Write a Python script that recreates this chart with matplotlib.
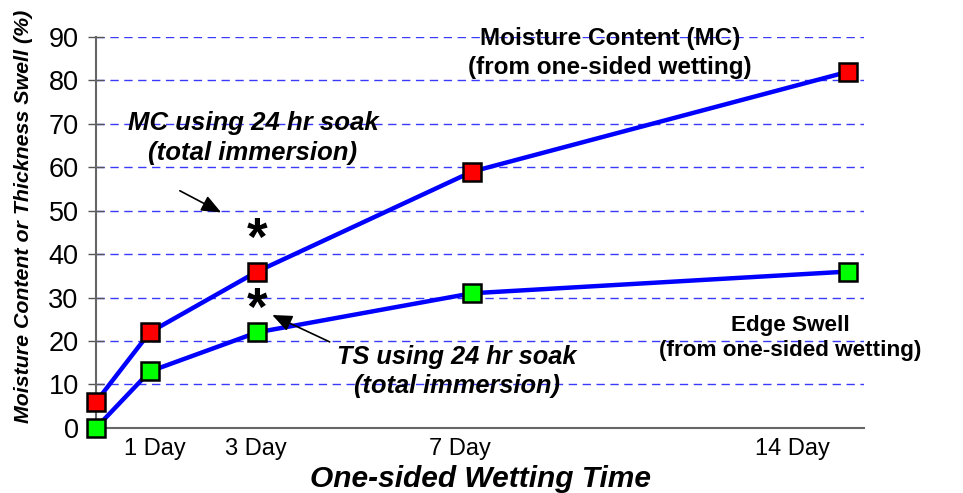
import matplotlib.pyplot as plt
import numpy as np

plt.rcParams['font.family'] = ['Liberation Sans', 'DejaVu Sans']

days = [0, 1, 3, 7, 14]
mc = [6, 22, 36, 59, 82]
ts = [0, 13, 22, 31, 36]
xtick_lbl = ['1 Day', '3 Day', '7 Day', '14 Day']
# labels sit a little off the data points in the original
xtick_pos = [1.1, 2.98, 6.78, 12.96]

fig = plt.figure(figsize=(9.63, 4.93), dpi=100)
ax = fig.add_axes([0.0997, 0.132, 0.7978, 0.793])

for y in range(10, 100, 10):
    ax.axhline(y, color='#3a3aff', lw=1, ls=(0, (6, 4)), zorder=1)

for vals in (mc, ts):
    ax.plot(days, vals, color='#0000ff', lw=3.2, zorder=3, clip_on=False)
ax.plot(days, mc, ls='none', marker='s', ms=13, mfc='#ff0000', mec='black',
        mew=1.8, zorder=4, clip_on=False)
ax.plot(days, ts, ls='none', marker='s', ms=13, mfc='#00ff00', mec='black',
        mew=1.8, zorder=4, clip_on=False)

ax.set_xlim(0, 14.3)
ax.set_ylim(0, 90)
ax.set_yticks(range(0, 100, 10))
ax.set_xticks(xtick_pos)
ax.set_xticklabels(xtick_lbl)
ax.tick_params(axis='y', direction='inout', length=11, width=1, color='#555555',
               labelsize=19.5, pad=7)
ax.tick_params(axis='x', length=0, labelsize=17, pad=7)
for s in ('top', 'right'):
    ax.spines[s].set_visible(False)
for s in ('left', 'bottom'):
    ax.spines[s].set_color('#666666')
    ax.spines[s].set_linewidth(1.5)

ax.set_ylabel('Moisture Content or Thickness Swell (%)', fontsize=15.4,
              fontweight='bold', style='italic')
ax.yaxis.set_label_coords(-0.082, 0.542)
ax.set_xlabel('One-sided Wetting Time', fontsize=21.5, fontweight='bold',
              style='italic', labelpad=4)

ax.text(9.57, 86.3, 'Moisture Content (MC)\n(from one-sided wetting)', ha='center',
        va='center', fontsize=17.5, fontweight='bold', linespacing=1.3)
ax.text(2.92, 66.7, 'MC using 24 hr soak\n(total immersion)', ha='center',
        va='center', fontsize=18.5, fontweight='bold', style='italic', linespacing=1.3)
ax.text(6.72, 13.0, 'TS using 24 hr soak\n(total immersion)', ha='center',
        va='center', fontsize=18.3, fontweight='bold', style='italic', linespacing=1.3)
ax.text(12.92, 20.7, 'Edge Swell\n(from one-sided wetting)', ha='center',
        va='center', fontsize=16.2, fontweight='bold', linespacing=1.3)

ax.text(3, 43, '*', ha='center', va='center', fontsize=38, fontweight='bold')
ax.text(3, 27, '*', ha='center', va='center', fontsize=38, fontweight='bold')

arrow = dict(arrowstyle='-|>,head_length=0.6,head_width=0.25', color='black',
             lw=1.2, mutation_scale=20, shrinkA=0, shrinkB=0)
ax.annotate('', xy=(2.33, 49.6), xytext=(1.56, 54.6), arrowprops=arrow)
ax.annotate('', xy=(3.28, 26), xytext=(4.35, 19.8), arrowprops=arrow)

fig.savefig('out.png', dpi=100)
